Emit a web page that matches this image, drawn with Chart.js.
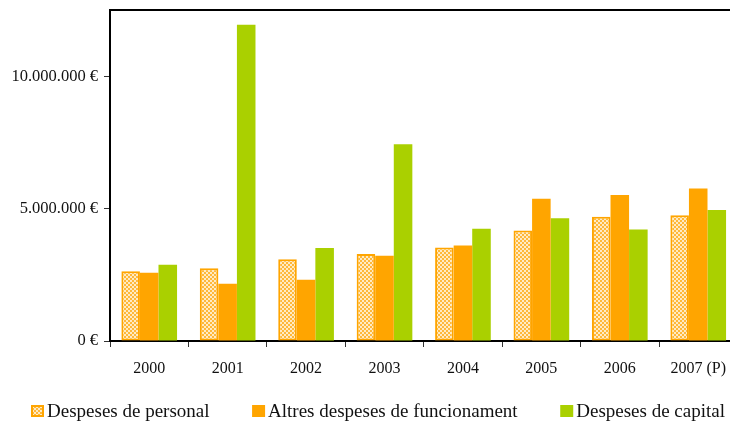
<!DOCTYPE html>
<html>
<head>
<meta charset="utf-8">
<script src="https://cdn.jsdelivr.net/npm/chart.js@4"></script>
<style>
  html, body { margin: 0; padding: 0; background: #fff; overflow: hidden; }
  #wrap { width: 738px; height: 421px; }
</style>
</head>
<body>
<div id="wrap"><canvas id="despesesChart" width="738" height="421"></canvas></div>
<script>
// ===== Dades =====
const categories = ['2000', '2001', '2002', '2003', '2004', '2005', '2006', '2007 (P)'];
const despesesPersonal = [2630000, 2750000, 3090000, 3290000, 3530000, 4170000, 4690000, 4750000];
const altresDespeses   = [2580000, 2160000, 2310000, 3220000, 3610000, 5370000, 5510000, 5760000];
const despesesCapital  = [2880000, 11940000, 3510000, 7430000, 4240000, 4640000, 4210000, 4950000];
const yTicks = [0, 5000000, 10000000];
const yMax = 12500000;

// ===== Colors =====
const colors = {
  orange: '#FFA500',
  green:  '#AAD000',
  axis:   '#000000',
  text:   '#111111',
};

// trama quadriculada per a "Despeses de personal"
function checkerPattern() {
  const c = document.createElement('canvas');
  c.width = 4; c.height = 4;
  const g = c.getContext('2d');
  g.fillStyle = '#FFEBC4';
  g.fillRect(0, 0, 4, 4);
  g.fillStyle = '#FFB83A';
  g.fillRect(0, 0, 2, 2);
  g.fillRect(2, 2, 2, 2);
  return g.createPattern(c, 'repeat');
}

const fmtEuro = v => String(v).replace(/\B(?=(\d{3})+(?!\d))/g, '.') + ' €';

const serif = "'Liberation Serif', 'Times New Roman', serif";

// línia superior del marc
const topLine = {
  id: 'topLine',
  afterDraw(chart) {
    const { ctx, chartArea } = chart;
    ctx.save();
    ctx.strokeStyle = colors.axis;
    ctx.lineWidth = 2;
    ctx.beginPath();
    ctx.moveTo(chartArea.left - 1, chartArea.top);
    ctx.lineTo(chartArea.right, chartArea.top);
    ctx.stroke();
    ctx.restore();
  }
};

// llegenda a la part inferior, repartida com a l'original
const bottomLegend = {
  id: 'bottomLegend',
  afterDraw(chart) {
    const { ctx } = chart;
    const boxW = 13, boxH = 12, textGap = 16;
    const fromX = 31, toX = 725, midY = 411;
    ctx.save();
    ctx.font = "19px " + serif;
    ctx.textBaseline = 'middle';
    const items = chart.data.datasets.map(ds => ({
      ds, w: textGap + ctx.measureText(ds.label).width
    }));
    const used = items.reduce((a, it) => a + it.w, 0);
    const gap = (toX - fromX - used) / (items.length - 1);
    let x = fromX;
    items.forEach(it => {
      const ds = it.ds;
      ctx.fillStyle = ds.backgroundColor;
      ctx.fillRect(x, midY - boxH / 2, boxW, boxH);
      if (ds.borderWidth) {
        ctx.strokeStyle = ds.borderColor;
        ctx.lineWidth = 2;
        ctx.strokeRect(x + 1, midY - boxH / 2 + 1, boxW - 2, boxH - 2);
      }
      ctx.fillStyle = colors.text;
      ctx.fillText(ds.label, x + textGap, midY + 1);
      x += it.w + gap;
    });
    ctx.restore();
  }
};

new Chart(document.getElementById('despesesChart').getContext('2d'), {
  type: 'bar',
  data: {
    labels: categories,
    datasets: [
      {
        label: 'Despeses de personal',
        data: despesesPersonal,
        backgroundColor: checkerPattern(),
        borderColor: colors.orange,
        borderWidth: 2,
        borderSkipped: false,
      },
      {
        label: 'Altres despeses de funcionament',
        data: altresDespeses,
        backgroundColor: colors.orange,
        borderWidth: 0,
      },
      {
        label: 'Despeses de capital',
        data: despesesCapital,
        backgroundColor: colors.green,
        borderWidth: 0,
      },
    ]
  },
  options: {
    responsive: false,
    animation: false,
    layout: { padding: { left: 0, top: 10, right: 0, bottom: 40 } },
    datasets: {
      bar: { barPercentage: 1.0, categoryPercentage: 0.71 }
    },
    plugins: {
      legend: { display: false },
      tooltip: { enabled: false }
    },
    scales: {
      x: {
        afterFit: scale => { scale.height = 40; },
        grid: {
          display: true,
          offset: true,
          drawOnChartArea: false,
          drawTicks: true,
          tickLength: 6,
          color: '#333',
          lineWidth: 1,
        },
        border: { display: true, color: colors.axis, width: 2 },
        ticks: {
          color: colors.text,
          padding: 12,
          maxRotation: 0,
          font: { family: serif, size: 16 }
        }
      },
      y: {
        min: 0,
        max: yMax,
        afterFit: scale => {
          scale.width = 110;
          scale.paddingTop = 0;
          scale.paddingBottom = 0;
        },
        afterBuildTicks: scale => { scale.ticks = yTicks.map(v => ({ value: v })); },
        grid: {
          display: true,
          drawOnChartArea: false,
          drawTicks: true,
          tickLength: 6,
          color: '#333',
          lineWidth: 1,
        },
        border: { display: true, color: colors.axis, width: 2 },
        ticks: {
          color: colors.text,
          padding: 6,
          callback: v => fmtEuro(v),
          font: { family: serif, size: 16.5 }
        }
      }
    }
  },
  plugins: [topLine, bottomLegend]
});
</script>
</body>
</html>
